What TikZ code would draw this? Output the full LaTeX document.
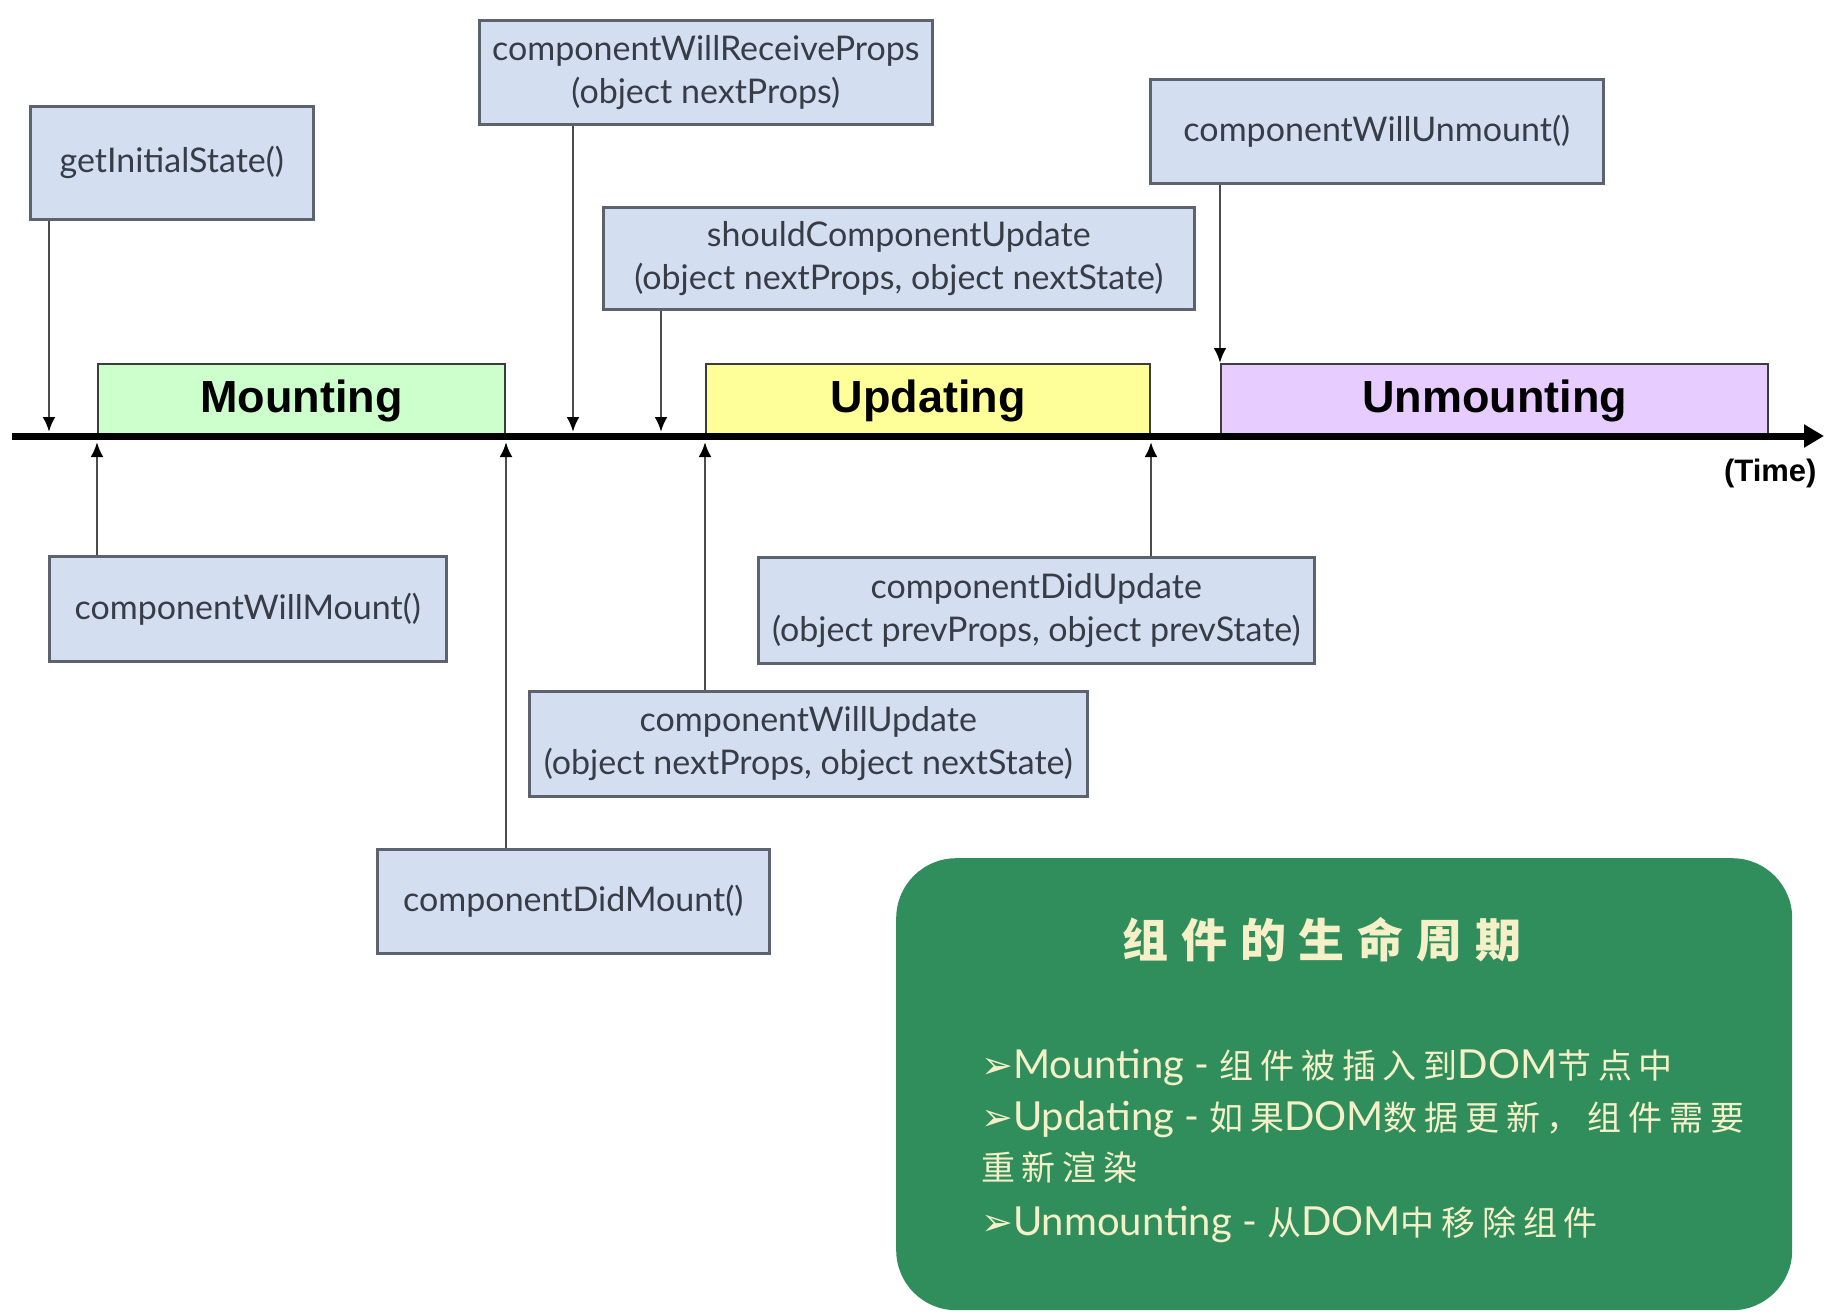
\documentclass[tikz,border=0pt]{standalone}
\usepackage{fontspec}
\usetikzlibrary{arrows.meta}
\setmainfont{Lato}
\newfontfamily\phasefont{Liberation Sans}
\newfontfamily\cjk[LetterSpace=20]{Noto Sans CJK SC}
\newfontfamily\cjktitle[LetterSpace=28]{Noto Sans CJK SC}
\newfontfamily\symfont{DejaVu Sans}
\newcommand{\zh}[1]{{\cjk\fontsize{34}{40}\selectfont #1}}
\newcommand{\bul}{{\symfont\fontsize{38}{40}\selectfont ➢}}

\definecolor{boxblue}{RGB}{211,223,241}
\definecolor{boxline}{RGB}{92,98,110}
\definecolor{boxtext}{RGB}{55,60,70}
\definecolor{linkgray}{RGB}{75,75,80}
\definecolor{mountgreen}{RGB}{204,255,204}
\definecolor{updateyellow}{RGB}{255,255,153}
\definecolor{unmountpurple}{RGB}{230,204,255}
\definecolor{phaseline}{RGB}{60,60,60}
\definecolor{summarygreen}{RGB}{48,142,92}
\definecolor{cream}{RGB}{245,240,200}

\begin{document}
\begin{tikzpicture}[x=1pt, y=-1pt, >={Latex[length=15pt,width=13pt,color=black]},
    method/.style={draw=boxline, fill=boxblue, line width=2.5pt, inner sep=0pt,
        anchor=north west, align=center, text=boxtext,
        font=\fontsize{34}{43}\selectfont},
    phase/.style={draw=phaseline, line width=2pt, inner sep=0pt, anchor=north west,
        minimum height=73pt, font=\phasefont\bfseries\fontsize{45}{50}\selectfont},
    link/.style={->, draw=linkgray, line width=2.8pt},
    bulletline/.style={anchor=base west, inner sep=0pt, text=cream,
        font=\fontsize{40}{44}\selectfont}]

    \useasboundingbox (0,0) rectangle (1825,1315);

    % The time axis sits at y = \ya; arrows stop on its upper or lower edge
    \def\ya{436}
    \def\yup{432}

    % Phases along the axis
    \node[phase, fill=mountgreen, minimum width=407pt] (mounting) at (97,363) {Mounting};
    \node[phase, fill=updateyellow, minimum width=444pt] (updating) at (705,363) {Updating};
    \node[phase, fill=unmountpurple, minimum width=547pt] (unmounting) at (1220,363) {Unmounting};

    % Axis
    \coordinate (tStart) at (12,\ya);
    \coordinate (tEnd) at (1824,\ya);
    \draw[line width=7pt, -{Triangle[length=20pt,width=22pt]}] (tStart) -- (tEnd);
    \node[anchor=east, font=\phasefont\bfseries\fontsize{31}{36}\selectfont] (timeLabel)
        at (1820,473) {(Time)};

    % Methods above the axis
    \node[method, minimum width=283pt, minimum height=113pt] (getInitial) at (29,105)
        {getInitialState()};
    \node[method, minimum width=453pt, minimum height=104pt] (willReceive) at (478,19)
        {componentWillReceiveProps\\(object nextProps)};
    \node[method, minimum width=591pt, minimum height=102pt] (shouldUpdate) at (602,206)
        {shouldComponentUpdate\\(object nextProps, object nextState)};
    \node[method, minimum width=453pt, minimum height=104pt] (willUnmount) at (1149,78)
        {componentWillUnmount()};

    % Methods below the axis
    \node[method, minimum width=397pt, minimum height=105pt] (willMount) at (48,555)
        {componentWillMount()};
    \node[method, minimum width=392pt, minimum height=104pt] (didMount) at (376,848)
        {componentDidMount()};
    \node[method, minimum width=556pt, minimum height=106pt] (didUpdate) at (757,556)
        {componentDidUpdate\\(object prevProps, object prevState)};
    \node[method, minimum width=558pt, minimum height=105pt] (willUpdate) at (528,690)
        {componentWillUpdate\\(object nextProps, object nextState)};

    % Where the downward arrows meet the axis
    \coordinate (atInitial) at (49,\yup);
    \coordinate (atReceive) at (573,\yup);
    \coordinate (atShould) at (661,\yup);

    \draw[link] (getInitial.south -| atInitial) -- (atInitial);
    \draw[link] (willReceive.south -| atReceive) -- (atReceive);
    \draw[link] (shouldUpdate.south -| atShould) -- (atShould);
    \draw[link] (willUnmount.south -| unmounting.north west) -- (unmounting.north west);

    % Upward arrows, onto the phase edges
    \draw[link] (willMount.north -| mounting.south west) -- ([yshift=-4pt]mounting.south west);
    \draw[link] (didMount.north -| mounting.south east) -- ([yshift=-4pt]mounting.south east);
    \draw[link] (willUpdate.north -| updating.south west) -- ([yshift=-4pt]updating.south west);
    \draw[link] (didUpdate.north -| updating.south east) -- ([yshift=-4pt]updating.south east);

    % Summary
    \node[fill=summarygreen, rounded corners=60pt, anchor=north west, inner sep=0pt,
        minimum width=896pt, minimum height=452pt] (summary) at (896,858) {};
    \node[text=cream, font=\cjktitle\bfseries\fontsize{46}{50}\selectfont] (title)
        at (1322,940) {组件的生命周期};
    \node[bulletline] (lineMount) at (981,1078)
        {\bul Mounting - \zh{组件被插入到}DOM\zh{节点中}};
    \node[bulletline] (lineUpdate) at (981,1130)
        {\bul Updating - \zh{如果}DOM\zh{数据更新，组件需要}};
    \node[bulletline] (lineRender) at (981,1180)
        {\zh{重新渲染}};
    \node[bulletline] (lineUnmount) at (981,1235)
        {\bul Unmounting - \zh{从}DOM\zh{中移除组件}};

\end{tikzpicture}
\end{document}
